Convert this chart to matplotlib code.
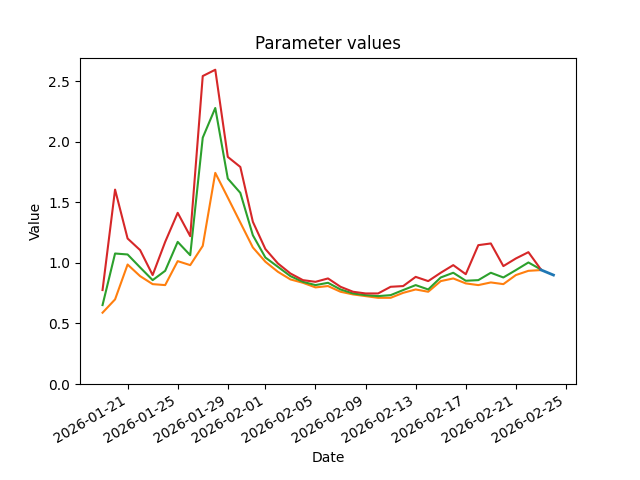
import numpy as np
import pandas as pd
import matplotlib
matplotlib.use("Agg")
import matplotlib.pyplot as plt

# daily dates for the three parameter series
dates = pd.date_range("2026-01-19", "2026-02-23", freq="D")

lower = [0.589, 0.699, 0.987, 0.891, 0.825, 0.817, 1.015, 0.982, 1.141, 1.744,
         1.540, 1.334, 1.128, 1.010, 0.927, 0.864, 0.836, 0.798, 0.809, 0.762,
         0.740, 0.726, 0.712, 0.712, 0.753, 0.781, 0.762, 0.850, 0.872, 0.831,
         0.817, 0.839, 0.825, 0.900, 0.935, 0.941]

middle = [0.652, 1.078, 1.070, 0.963, 0.858, 0.935, 1.174, 1.064, 2.035, 2.280,
          1.697, 1.579, 1.229, 1.045, 0.968, 0.891, 0.844, 0.817, 0.836, 0.781,
          0.748, 0.734, 0.726, 0.734, 0.776, 0.817, 0.781, 0.880, 0.919, 0.853,
          0.858, 0.919, 0.880, 0.941, 1.004, 0.946]

upper = [0.776, 1.606, 1.202, 1.106, 0.900, 1.174, 1.414, 1.221, 2.544, 2.596,
         1.876, 1.793, 1.340, 1.115, 0.996, 0.913, 0.858, 0.844, 0.872, 0.803,
         0.762, 0.748, 0.748, 0.803, 0.809, 0.885, 0.850, 0.919, 0.982, 0.907,
         1.147, 1.161, 0.974, 1.037, 1.089, 0.946]

# short forecast tail
fc_dates = pd.to_datetime(["2026-02-23", "2026-02-24"])
fc_values = [0.943, 0.900]

fig, ax = plt.subplots(figsize=(6.4, 4.8), dpi=100)
ax.plot(dates, lower, color="C1")
ax.plot(dates, middle, color="C2")
ax.plot(dates, upper, color="C3")
ax.plot(fc_dates, fc_values, color="C0", lw=2)

ax.set_ylim(bottom=0)
ax.set_title("Parameter values")
ax.set_xlabel("Date")
ax.set_ylabel("Value")
fig.autofmt_xdate()

plt.savefig("out.png", dpi=100)
